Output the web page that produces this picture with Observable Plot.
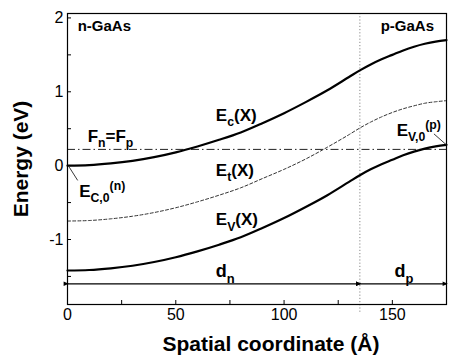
<!DOCTYPE html>
<html><head><meta charset="utf-8">
<script src="https://cdn.jsdelivr.net/npm/d3@7"></script>
<script src="https://cdn.jsdelivr.net/npm/@observablehq/plot@0.6"></script>
<style>body{margin:0;background:#fff}</style>
</head><body><div id="chart"></div>
<script>
// spatial coordinate (Å)
const xPos = [0,10,20,30,40,50,60,70,80,90,100,110,120,130,135,140,145,150,155,160,165,170,175];
// conduction band edge Ec(X) (eV)
const ecVals = [0,0.007,0.03,0.065,0.115,0.18,0.26,0.35,0.45,0.575,0.71,0.86,1.02,1.2,1.29,1.37,1.44,1.50,1.56,1.61,1.65,1.68,1.70];
// trap level Et(X) (eV)
const etVals = [-0.75,-0.743,-0.72,-0.685,-0.635,-0.57,-0.49,-0.40,-0.30,-0.175,-0.05,0.09,0.25,0.42,0.51,0.59,0.66,0.72,0.77,0.81,0.845,0.865,0.88];
// valence band edge Ev(X) (eV)
const evVals = [-1.42,-1.413,-1.39,-1.355,-1.305,-1.24,-1.16,-1.07,-0.97,-0.845,-0.71,-0.56,-0.40,-0.22,-0.13,-0.05,0.02,0.08,0.14,0.19,0.23,0.26,0.28];
const fermiLevel = [0.22];
const junction = [135];
const dArrowY = -1.6;
const dSegments = [[0,135],[135,175]];
const xTickLabels = [0,50,100,150];
const xTickMarks = [25,50,75,100,125,150];
const yTickLabels = [-1,0,1,2];
const yTickMarks = [-1.5,-1,-0.5,0,0.5,1,1.5,2];
const xDomain = [0,175];
const yDomain = [-1.88,2.06];
// annotation labels: text, x (Å), y (eV) of baseline start
const labelTexts = ["n-GaAs","p-GaAs","F_{n}=F_{p}","E_{c}(X)","E_{t}(X)","E_{V}(X)","d_{n}","d_{p}","E_{C,0}^{(n)}","E_{V,0}^{(p)}"];
const labelX = [4.7,144.6,9.3,68.5,68.5,68.5,68.5,151,5.4,152];
const labelY = [1.82,1.82,0.32,0.61,-0.14,-0.81,-1.51,-1.51,-0.42,0.40];
const labelSize = [15,15,17,17,17,17,18,18,17,17];
// leader lines from labels to band edges
const leaderX1 = [0.8,175], leaderY1 = [-0.02,0.28];
const leaderX2 = [4.7,169.2], leaderY2 = [-0.2,0.43];

const W = 452, H = 358, mt = 13, mb = 54, ml = 67, mr = 6;
const innerW = W - ml - mr, innerH = H - mt - mb;
const rows = xPos.map((x,i)=>({x, ec: ecVals[i], et: etVals[i], ev: evVals[i]}));
const labels = labelTexts.map((t,i)=>({t, x: labelX[i], y: labelY[i], s: labelSize[i]}));
const leaders = leaderX1.map((x,i)=>({x1:x, y1:leaderY1[i], x2:leaderX2[i], y2:leaderY2[i]}));
const segs = dSegments.map(([a,b])=>({x1:a,x2:b}));
const font = "Liberation Sans, Arial, Helvetica, sans-serif";

const plot = Plot.plot({
  width: W, height: H,
  marginTop: mt, marginBottom: mb, marginLeft: ml, marginRight: mr,
  style: {fontFamily: font, fontSize: "15px", color: "#000", background: "#fff"},
  x: {domain: xDomain},
  y: {domain: yDomain},
  marks: [
    Plot.ruleY(fermiLevel, {stroke: "#222", strokeWidth: 1, strokeDasharray: "8,3,1.5,3"}),
    Plot.ruleX(junction, {stroke: "#888", strokeWidth: 1, strokeDasharray: "1.2,2", insetBottom: -9}),
    Plot.line(rows, {x: "x", y: "et", stroke: "#333", strokeWidth: 1, strokeDasharray: "3,2.2", curve: "monotone-x"}),
    Plot.line(rows, {x: "x", y: "ec", stroke: "#000", strokeWidth: 2.2, curve: "monotone-x"}),
    Plot.line(rows, {x: "x", y: "ev", stroke: "#000", strokeWidth: 2.2, curve: "monotone-x"}),
    Plot.link(segs, {x1: "x1", x2: "x2", y1: dArrowY, y2: dArrowY, stroke: "#000", strokeWidth: 1.3, markerStart: "arrow", markerEnd: "arrow"}),
    Plot.link(leaders, {x1: "x1", y1: "y1", x2: "x2", y2: "y2", stroke: "#222", strokeWidth: 0.9}),
    Plot.tickX(xTickMarks, {x: d=>d, stroke: "#000", strokeWidth: 1, insetTop: innerH - 4}),
    Plot.tickY(yTickMarks, {y: d=>d, stroke: "#000", strokeWidth: 1, insetRight: innerW - 4}),
    Plot.axisX(xTickLabels, {tickSize: 0, tickPadding: 4, fontSize: 16, label: null, tickFormat: d=>String(d)}),
    Plot.axisY(yTickLabels, {tickSize: 0, tickPadding: 4, fontSize: 16, label: null, tickFormat: d=>String(d)}),
    Plot.frame({stroke: "#000", strokeWidth: 1.2}),
    Plot.text(labels, {x: "x", y: "y", text: "t", fontSize: "s", fontWeight: "bold", textAnchor: "start", lineAnchor: "bottom", fill: "#000"}),
    Plot.text(["Spatial coordinate (Å)"], {frameAnchor: "bottom", dx: 14, dy: 40, fontSize: 21, fontWeight: "bold", textAnchor: "middle", lineAnchor: "middle", fill: "#000"}),
    Plot.text(["Energy (eV)"], {frameAnchor: "left", dx: -46, rotate: -90, fontSize: 21, fontWeight: "bold", textAnchor: "middle", lineAnchor: "middle", fill: "#000"})
  ]
});

// filled arrowheads like the reference
d3.select(plot).selectAll("marker path").attr("d", "M-4.5,-2.6L1.5,0L-4.5,2.6Z").attr("fill", "#000").attr("stroke", "none");

// render sub/superscripts as tspans
function parseRich(s){
  const out=[]; let i=0;
  while(i<s.length){
    if((s[i]==="_"||s[i]==="^") && s[i+1]==="{"){
      const j=s.indexOf("}",i);
      out.push({t:s.slice(i+2,j), mode: s[i]==="_"?1:2}); i=j+1;
    } else {
      let j=i; while(j<s.length && !((s[j]==="_"||s[j]==="^")&&s[j+1]==="{")) j++;
      out.push({t:s.slice(i,j), mode:0}); i=j;
    }
  }
  return out;
}
d3.select(plot).selectAll("text").each(function(){
  const el = this, s = el.textContent;
  if(!/[_^]\{/.test(s)) return;
  const fsAttr = el.getAttribute("font-size") || (el.parentNode && el.parentNode.getAttribute("font-size")) || "16";
  const base = parseFloat(fsAttr);
  const segsR = parseRich(s);
  el.textContent = "";
  let cur = 0;
  for(const g of segsR){
    const target = g.mode===1 ? 0.3*base : g.mode===2 ? -0.42*base : 0;
    const ts = d3.select(el).append("tspan").text(g.t).attr("dy", (target-cur)+"px");
    if(g.mode) ts.attr("font-size", (0.72*base)+"px");
    cur = target;
  }
});
document.getElementById("chart").appendChild(plot);
</script>
</body></html>
